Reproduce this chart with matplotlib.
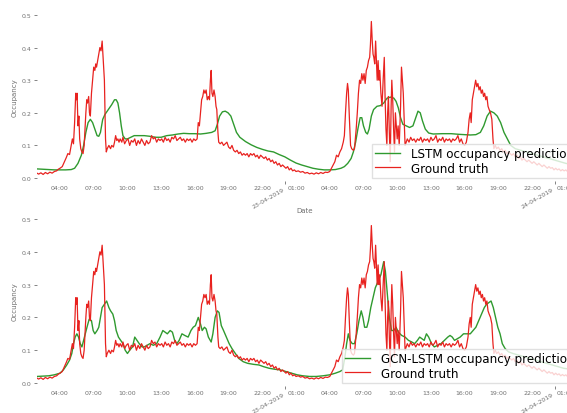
import numpy as np
import pandas as pd
import matplotlib
matplotlib.use('Agg')
import matplotlib.pyplot as plt
import matplotlib.dates as mdates

# hours counted from 22-04-2019 00:00
ground_truth = [
    (1.95, .015), (2.1, .012), (2.3, .016), (2.5, .011), (2.7, .017), (2.9, .013), (3.1, .018),
    (3.3, .015), (3.5, .02), (3.7, .022), (3.85, .027), (4.0, .03), (4.2, .035), (4.4, .05),
    (4.55, .062), (4.7, .075), (4.85, .072), (5.0, .1), (5.1, .12), (5.2, .105), (5.3, .17),
    (5.4, .26), (5.47, .24), (5.52, .26), (5.6, .16), (5.68, .19), (5.75, .12), (5.85, .09),
    (5.95, .08), (6.05, .075), (6.15, .1), (6.3, .2), (6.38, .24), (6.45, .23), (6.55, .25),
    (6.62, .2), (6.7, .19), (6.8, .26), (6.9, .3), (7.0, .34), (7.1, .33), (7.18, .35),
    (7.25, .34), (7.35, .36), (7.45, .38), (7.55, .40), (7.65, .39), (7.75, .42), (7.85, .36),
    (7.95, .3), (8.05, .12), (8.12, .08), (8.2, .09), (8.35, .1), (8.5, .09), (8.6, .1),
    (8.75, .095), (8.85, .11), (8.95, .13), (9.05, .115), (9.15, .12), (9.25, .11), (9.35, .12),
    (9.5, .11), (9.6, .125), (9.75, .105), (9.9, .115), (10.05, .12), (10.2, .1), (10.35, .115),
    (10.5, .11), (10.65, .12), (10.8, .1), (10.95, .115), (11.1, .105), (11.25, .12), (11.4, .11),
    (11.55, .1), (11.7, .115), (11.85, .105), (12.0, .11), (12.15, .13), (12.3, .12), (12.45, .125),
    (12.6, .11), (12.75, .12), (12.9, .115), (13.05, .12), (13.2, .11), (13.35, .125), (13.5, .115),
    (13.65, .12), (13.8, .11), (13.95, .125), (14.1, .12), (14.25, .13), (14.4, .115), (14.55, .12),
    (14.7, .125), (14.85, .115), (15.0, .12), (15.15, .11), (15.3, .12), (15.45, .115), (15.6, .12),
    (15.75, .11), (15.9, .12), (16.05, .115), (16.2, .12), (16.3, .17), (16.4, .16), (16.5, .2),
    (16.6, .24), (16.7, .25), (16.8, .27), (16.9, .26), (17.0, .27), (17.1, .24), (17.2, .25),
    (17.3, .24), (17.38, .3), (17.45, .33), (17.52, .26), (17.6, .25), (17.7, .27), (17.8, .25),
    (17.88, .22), (17.95, .21), (18.05, .14), (18.12, .11), (18.25, .105), (18.4, .11), (18.55, .1),
    (18.7, .105), (18.85, .11), (19.0, .095), (19.15, .09), (19.3, .1), (19.45, .085), (19.6, .08),
    (19.75, .085), (19.9, .075), (20.05, .08), (20.2, .07), (20.35, .075), (20.5, .07), (20.65, .075),
    (20.8, .065), (20.95, .075), (21.1, .07), (21.25, .075), (21.4, .065), (21.55, .07), (21.7, .06),
    (21.85, .07), (22.0, .065), (22.15, .06), (22.3, .065), (22.45, .055), (22.6, .06), (22.75, .05),
    (22.9, .055), (23.05, .045), (23.2, .05), (23.35, .04), (23.5, .045), (23.65, .035), (23.8, .04),
    (23.95, .035), (24.1, .03), (24.25, .035), (24.4, .025), (24.55, .03), (24.7, .022), (24.85, .025),
    (25.0, .02), (25.2, .022), (25.4, .018), (25.6, .02), (25.8, .015), (26.0, .017), (26.2, .013),
    (26.4, .015), (26.6, .012), (26.8, .016), (27.0, .013), (27.2, .017), (27.4, .014), (27.6, .018),
    (27.8, .017), (28.0, .02), (28.15, .03), (28.3, .04), (28.45, .05), (28.6, .07), (28.75, .065),
    (28.9, .08), (29.05, .09), (29.2, .11), (29.3, .13), (29.4, .2), (29.5, .26), (29.58, .29),
    (29.65, .27), (29.75, .18), (29.85, .1), (29.95, .09), (30.1, .085), (30.2, .09), (30.35, .15),
    (30.45, .2), (30.55, .26), (30.65, .3), (30.75, .29), (30.85, .32), (30.95, .3), (31.05, .32),
    (31.15, .29), (31.25, .33), (31.35, .34), (31.45, .36), (31.55, .37), (31.62, .41), (31.7, .48),
    (31.78, .42), (31.85, .38), (31.92, .37), (32.0, .35), (32.08, .42), (32.15, .36), (32.22, .3),
    (32.3, .36), (32.38, .3), (32.45, .33), (32.55, .26), (32.65, .22), (32.75, .3), (32.85, .37),
    (32.92, .25), (33.0, .15), (33.08, .1), (33.15, .2), (33.22, .25), (33.3, .14), (33.38, .05),
    (33.46, .22), (33.52, .3), (33.6, .24), (33.68, .15), (33.76, .08), (33.84, .2), (33.92, .16),
    (34.0, .12), (34.08, .16), (34.18, .1), (34.3, .22), (34.38, .34), (34.46, .3), (34.54, .26),
    (34.62, .18), (34.7, .1), (34.8, .11), (34.9, .12), (35.05, .11), (35.2, .125), (35.35, .115),
    (35.5, .12), (35.65, .11), (35.8, .12), (35.95, .115), (36.1, .125), (36.25, .11), (36.4, .12),
    (36.55, .115), (36.7, .12), (36.85, .11), (37.0, .125), (37.15, .115), (37.3, .12), (37.45, .13),
    (37.6, .11), (37.75, .12), (37.9, .115), (38.05, .125), (38.2, .11), (38.35, .12), (38.5, .115),
    (38.65, .12), (38.8, .11), (38.95, .12), (39.1, .115), (39.25, .12), (39.4, .13), (39.55, .11),
    (39.7, .12), (39.85, .105), (40.0, .1), (40.15, .11), (40.3, .14), (40.4, .18), (40.5, .2),
    (40.58, .17), (40.68, .24), (40.78, .26), (40.88, .28), (40.98, .3), (41.08, .28), (41.18, .29),
    (41.28, .27), (41.38, .28), (41.48, .26), (41.58, .27), (41.68, .25), (41.78, .26), (41.88, .24),
    (41.98, .25), (42.08, .22), (42.18, .21), (42.3, .2), (42.42, .18), (42.52, .12), (42.6, .09),
    (42.72, .1), (42.85, .09), (43.0, .095), (43.15, .085), (43.3, .09), (43.45, .08), (43.6, .085),
    (43.75, .075), (43.9, .08), (44.05, .075), (44.2, .07), (44.35, .075), (44.5, .065), (44.65, .07),
    (44.8, .06), (44.95, .065), (45.1, .055), (45.25, .06), (45.4, .055), (45.55, .05), (45.7, .055),
    (45.85, .05), (46.0, .045), (46.15, .05), (46.3, .045), (46.45, .04), (46.6, .045), (46.75, .04),
    (46.9, .035), (47.05, .04), (47.2, .035), (47.35, .03), (47.5, .035), (47.65, .03), (47.8, .032),
    (47.95, .025), (48.1, .03), (48.25, .025), (48.4, .028), (48.55, .022), (48.7, .026), (48.85, .022),
    (49.0, .025), (49.15, .02), (49.3, .022), (49.45, .018), (49.6, .02), (49.8, .018),
]

lstm_pred = [
    (1.95, .028), (2.5, .027), (3.0, .026), (3.5, .025), (4.0, .025), (4.5, .025), (5.0, .026),
    (5.3, .03), (5.6, .045), (5.9, .07), (6.1, .1), (6.3, .14), (6.5, .17), (6.7, .18), (6.9, .17),
    (7.1, .15), (7.3, .13), (7.45, .128), (7.6, .14), (7.8, .18), (8.0, .195), (8.3, .21),
    (8.6, .225), (8.85, .24), (9.0, .24), (9.15, .23), (9.3, .2), (9.45, .16), (9.6, .13),
    (9.8, .12), (10.0, .12), (10.3, .125), (10.6, .13), (11.0, .13), (11.5, .13), (12.0, .128),
    (12.5, .125), (13.0, .125), (13.5, .13), (14.0, .132), (14.5, .135), (15.0, .137), (15.5, .136),
    (16.0, .136), (16.5, .135), (17.0, .137), (17.5, .14), (17.8, .145), (18.0, .165), (18.2, .19),
    (18.45, .203), (18.7, .205), (18.95, .2), (19.2, .19), (19.45, .165), (19.7, .14), (20.0, .125),
    (20.5, .112), (21.0, .102), (21.5, .094), (22.0, .088), (22.5, .083), (23.0, .08), (23.5, .072),
    (24.0, .065), (24.5, .055), (25.0, .046), (25.5, .04), (26.0, .035), (26.5, .03), (27.0, .027),
    (27.5, .025), (28.0, .025), (28.5, .026), (29.0, .03), (29.3, .035), (29.6, .045), (29.9, .06),
    (30.1, .08), (30.3, .11), (30.5, .15), (30.7, .185), (30.85, .185), (31.0, .16), (31.2, .14),
    (31.35, .135), (31.5, .15), (31.7, .19), (31.9, .21), (32.2, .22), (32.5, .222), (32.8, .23),
    (33.1, .245), (33.4, .248), (33.7, .245), (33.9, .235), (34.1, .215), (34.3, .185), (34.5, .165),
    (34.8, .16), (35.1, .155), (35.4, .16), (35.65, .185), (35.85, .205), (36.05, .2), (36.25, .175),
    (36.5, .15), (36.8, .138), (37.2, .135), (38.0, .136), (38.8, .136), (39.5, .134), (40.0, .133),
    (40.5, .132), (41.0, .133), (41.4, .14), (41.7, .16), (42.0, .19), (42.3, .205), (42.6, .2),
    (42.9, .19), (43.2, .17), (43.5, .14), (43.8, .12), (44.1, .1), (44.5, .09), (45.0, .085),
    (45.5, .08), (46.0, .075), (46.5, .07), (47.0, .065), (47.5, .06), (48.0, .055), (48.5, .05),
    (49.0, .045), (49.8, .04),
]

gcn_lstm_pred = [
    (1.95, .02), (2.5, .021), (3.0, .022), (3.5, .025), (4.0, .03), (4.3, .04), (4.6, .055),
    (4.85, .07), (5.05, .09), (5.2, .12), (5.35, .14), (5.5, .15), (5.65, .14), (5.8, .12),
    (5.95, .11), (6.1, .13), (6.25, .15), (6.4, .17), (6.6, .195), (6.8, .19), (6.95, .16),
    (7.1, .15), (7.3, .16), (7.45, .17), (7.6, .2), (7.75, .23), (7.95, .24), (8.15, .25),
    (8.35, .23), (8.5, .22), (8.7, .21), (8.85, .19), (9.0, .16), (9.2, .14), (9.4, .13),
    (9.6, .12), (9.8, .1), (10.0, .09), (10.2, .1), (10.45, .11), (10.65, .14), (10.85, .13),
    (11.05, .12), (11.3, .11), (11.5, .11), (11.75, .115), (12.0, .12), (12.3, .115), (12.6, .12),
    (12.9, .14), (13.15, .16), (13.35, .155), (13.55, .15), (13.8, .16), (14.0, .155), (14.2, .13),
    (14.4, .12), (14.6, .13), (14.85, .15), (15.1, .145), (15.4, .14), (15.65, .16), (15.85, .17),
    (16.05, .175), (16.3, .2), (16.5, .18), (16.65, .16), (16.85, .17), (17.0, .165), (17.2, .14),
    (17.45, .125), (17.6, .15), (17.8, .2), (18.0, .22), (18.15, .215), (18.35, .175), (18.55, .16),
    (18.8, .14), (19.05, .12), (19.3, .105), (19.6, .09), (19.9, .075), (20.3, .065), (20.7, .06),
    (21.2, .057), (21.7, .055), (22.1, .05), (22.6, .045), (23.1, .042), (23.6, .04), (24.1, .035),
    (24.6, .03), (25.1, .025), (25.6, .022), (26.2, .02), (26.8, .02), (27.4, .022), (28.0, .025),
    (28.5, .03), (28.9, .035), (29.15, .04), (29.35, .08), (29.5, .12), (29.65, .15), (29.8, .13),
    (30.0, .12), (30.2, .12), (30.4, .15), (30.6, .19), (30.8, .22), (30.95, .2), (31.1, .17),
    (31.3, .17), (31.45, .19), (31.65, .23), (31.85, .26), (32.05, .29), (32.3, .31), (32.55, .33),
    (32.8, .37), (32.95, .34), (33.1, .28), (33.3, .2), (33.5, .16), (33.7, .16), (33.9, .17),
    (34.1, .155), (34.4, .145), (34.7, .14), (35.0, .13), (35.3, .125), (35.55, .12), (35.8, .13),
    (36.0, .14), (36.2, .135), (36.4, .13), (36.6, .15), (36.8, .14), (37.05, .12), (37.3, .11),
    (37.6, .115), (37.9, .12), (38.2, .13), (38.5, .14), (38.7, .145), (38.9, .14), (39.1, .13),
    (39.35, .135), (39.6, .14), (39.9, .15), (40.2, .15), (40.5, .15), (40.75, .16), (41.0, .17),
    (41.25, .19), (41.5, .21), (41.75, .23), (41.95, .24), (42.15, .245), (42.35, .25), (42.55, .23),
    (42.75, .2), (42.95, .17), (43.15, .15), (43.35, .12), (43.6, .105), (43.9, .095), (44.3, .09),
    (44.8, .085), (45.3, .08), (45.8, .075), (46.3, .07), (46.8, .065), (47.3, .06), (47.8, .055),
    (48.3, .05), (48.8, .045), (49.8, .04),
]

yticks = [0.0, 0.1, 0.2, 0.3, 0.4, 0.5]
base = pd.Timestamp('2019-04-22')

def to_dates(series):
    hrs = np.array([p[0] for p in series])
    vals = np.array([p[1] for p in series])
    t = (base + pd.to_timedelta(hrs, unit='h')).to_pydatetime()
    return t, vals

gt_t, gt_v = to_dates(ground_truth)

fig = plt.figure(figsize=(5.67, 4.14), dpi=100)
W, H = 567, 414
tcol = '#707070'

def panel(rect, pred, label, leg_xy):
    ax = fig.add_axes(rect)
    pt, pv = to_dates(pred)
    ax.plot(pt, pv, color='#2f9a2f', lw=1.0, label=label)
    ax.plot(gt_t, gt_v, color='#e8221f', lw=0.9, label='Ground truth')
    ax.set_xlim(base + pd.Timedelta(hours=1.954), base + pd.Timedelta(hours=49.64))
    ax.set_ylim(-0.01, 0.51)
    for s in ax.spines.values():
        s.set_visible(False)
    ax.set_yticks(yticks)
    ax.set_yticklabels([f'{v:.1f}' for v in yticks])
    ax.tick_params(axis='y', length=2, width=0.6, color=tcol, labelsize=4.5,
                   labelcolor=tcol, pad=2)
    ax.xaxis.set_major_locator(mdates.DayLocator())
    ax.xaxis.set_major_formatter(mdates.DateFormatter('%d-%m-%Y'))
    ax.xaxis.set_minor_locator(mdates.HourLocator(byhour=[1, 4, 7, 10, 13, 16, 19, 22]))
    ax.xaxis.set_minor_formatter(mdates.DateFormatter('%H:%M'))
    ax.tick_params(axis='x', which='minor', length=0, labelsize=4.5, labelcolor=tcol, pad=2.5)
    ax.tick_params(axis='x', which='major', length=2.5, width=0.6, color=tcol,
                   labelsize=4.5, labelcolor=tcol, pad=1)
    for lbl in ax.get_xticklabels(which='major'):
        lbl.set_rotation(30)
        lbl.set_ha('right')
    ax.set_xlabel('Date', fontsize=5, color=tcol, labelpad=-1)
    ax.set_ylabel('Occupancy', fontsize=5, color=tcol, labelpad=3)
    ax.legend(loc='lower left', bbox_to_anchor=leg_xy, bbox_transform=fig.transFigure,
              borderaxespad=0, fontsize=8.6, frameon=True, framealpha=0.8,
              edgecolor='0.85', fancybox=False, labelspacing=0.1, borderpad=0.25,
              handlelength=2.1, handletextpad=0.9)
    return ax

left = 37 / W
width = (573 - 37) / W
panel([left, (H - 182.3) / H, width, 169.6 / H], lstm_pred,
      'LSTM occupancy prediction', (372 / W, (H - 178.5) / H))
panel([left, (H - 387.3) / H, width, 170.6 / H], gcn_lstm_pred,
      'GCN-LSTM occupancy prediction', (342 / W, (H - 383.5) / H))

fig.savefig('out.png', dpi=100)
